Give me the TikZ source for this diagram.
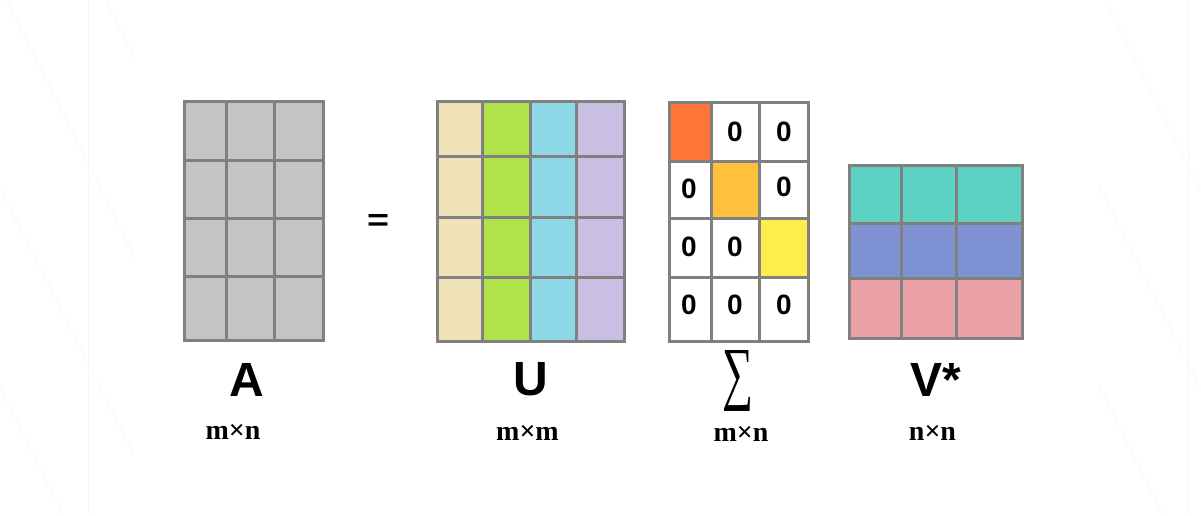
\documentclass[tikz,border=0pt]{standalone}
\usepackage{fontspec}
\setmainfont{Liberation Sans}
\newfontfamily\dimfont{Liberation Serif}
\definecolor{gridline}{HTML}{808080}
\definecolor{cA}{HTML}{C4C4C4}
\definecolor{uBeige}{HTML}{F0E2B6}
\definecolor{uGreen}{HTML}{B0E34B}
\definecolor{uCyan}{HTML}{8DD8E6}
\definecolor{uLav}{HTML}{C8BFE2}
\definecolor{sOrange}{HTML}{FF7535}
\definecolor{sAmber}{HTML}{FFC13D}
\definecolor{sYellow}{HTML}{FFEE4A}
\definecolor{vTeal}{HTML}{5DD1C1}
\definecolor{vBlue}{HTML}{7F92D4}
\definecolor{vPink}{HTML}{EBA0A5}
\definecolor{bgline}{HTML}{F5F5F5}
\begin{document}
\begin{tikzpicture}[x=1pt,y=-1pt,
  gridl/.style={draw=gridline,line width=3pt},
  zero/.style={inner sep=0pt,font=\fontsize{28}{28}\selectfont\bfseries},
  bigname/.style={inner sep=0pt,anchor=base,font=\fontsize{48}{48}\selectfont\bfseries},
  dimlabel/.style={inner sep=0pt,anchor=base,font=\fontsize{28}{28}\selectfont\dimfont\bfseries},
  bgl/.style={draw=bgline,line width=0.6pt}]
\useasboundingbox (0,0) rectangle (1201,515);
\fill[white] (0,0) rectangle (1201,515);
% faint background lines
\draw[bgl] (88,0) -- (88,515);
\draw[bgl] (1188,0) -- (1188,515);
\draw[bgl] (7,0) -- (135,258);
\draw[bgl] (0,188) -- (135,457);
\draw[bgl] (0,387) -- (63,515);
\draw[bgl] (105,0) -- (135,58);
\draw[bgl] (1105,0) -- (1200,190);
\draw[bgl] (1098,183) -- (1200,388);
\draw[bgl] (1098,383) -- (1163,515);

% Matrix A
\fill[cA] (184,101) rectangle (323,340);
\foreach \x in {226,274} \draw[gridl] (\x,101) -- (\x,340);
\foreach \y in {160,218,276} \draw[gridl] (184,\y) -- (323,\y);
\draw[gridl] (184,101) rectangle (323,340);

% equals sign
\node[inner sep=0pt] (eq) at (378,222) {\resizebox{22pt}{16pt}{\bfseries =}};

% Matrix U
\fill[uBeige] (437,101) rectangle (482,341);
\fill[uGreen] (482,101) rectangle (530,341);
\fill[uCyan] (530,101) rectangle (576,341);
\fill[uLav] (576,101) rectangle (624,341);
\foreach \x in {482,530,576} \draw[gridl] (\x,101) -- (\x,341);
\foreach \y in {156,217,277} \draw[gridl] (437,\y) -- (624,\y);
\draw[gridl] (437,101) rectangle (624,341);

% Matrix Sigma
\fill[white] (669,102) rectangle (808,341);
\fill[sOrange] (669,102) rectangle (711,161);
\fill[sAmber] (711,161) rectangle (759,218);
\fill[sYellow] (759,218) rectangle (808,277);
\foreach \x in {711,759} \draw[gridl] (\x,102) -- (\x,341);
\foreach \y in {161,218,277} \draw[gridl] (669,\y) -- (808,\y);
\draw[gridl] (669,102) rectangle (808,341);
\node[zero] (z12) at (735,131.5) {0};
\node[zero] (z13) at (784,131.5) {0};
\node[zero] (z21) at (689,188.5) {0};
\node[zero] (z23) at (784,187) {0};
\node[zero] (z31) at (689,246.5) {0};
\node[zero] (z32) at (735,246.5) {0};
\node[zero] (z41) at (689,304.5) {0};
\node[zero] (z42) at (735,304.5) {0};
\node[zero] (z43) at (784,304.5) {0};

% Matrix V*
\fill[vTeal] (849,165) rectangle (1022,223);
\fill[vBlue] (849,223) rectangle (1022,278);
\fill[vPink] (849,278) rectangle (1022,338);
\foreach \x in {901,956} \draw[gridl] (\x,165) -- (\x,338);
\foreach \y in {223,278} \draw[gridl] (849,\y) -- (1022,\y);
\draw[gridl] (849,165) rectangle (1022,338);

% labels
\node[bigname] (lA) at (247,396.5) {A};
\node[dimlabel] (dA) at (233,439.5) {m×n};
\node[bigname] (lU) at (530.5,395.5) {U};
\node[dimlabel] (dU) at (527.5,440.5) {m×m};
\node[inner sep=0pt] (lS) at (738,381) {\resizebox{31pt}{46pt}{\dimfont ∑}};
\node[dimlabel] (dS) at (741,441.5) {m×n};
\node[bigname] (lV) at (936,396) {V*};
\node[dimlabel] (dV) at (932.5,440) {n×n};
\end{tikzpicture}
\end{document}
